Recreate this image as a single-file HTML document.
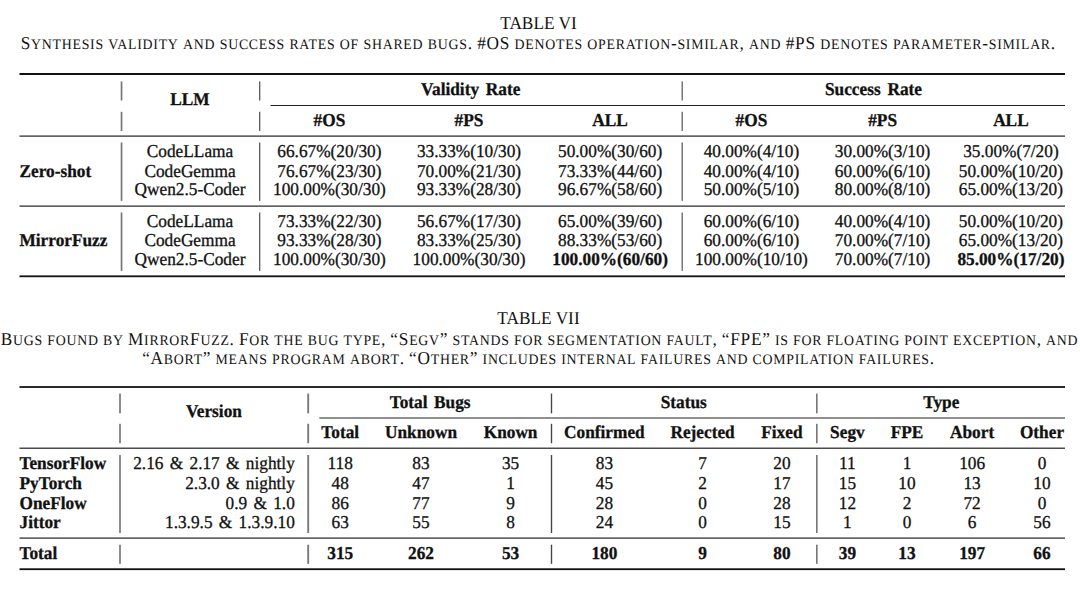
<!DOCTYPE html>
<html><head><meta charset="utf-8"><title>Tables VI and VII</title>
<style>
html,body{margin:0;padding:0;background:#fff;}
svg{display:block;}
text{font-family:"Liberation Serif","Times New Roman",serif;font-size:17.3px;fill:#111;text-rendering:geometricPrecision;}
text.s{stroke:#111;stroke-width:0.3px;}
text.b{font-weight:bold;}
tspan.sm{font-size:13.84px;text-transform:uppercase;}
tspan.sf{font-family:"Liberation Sans",Arial,sans-serif;font-size:15.6px;}
</style></head>
<body>
<svg width="1080" height="593" viewBox="0 0 1080 593">
<rect width="1080" height="593" fill="#fff"/>
<text x="538.5" y="29.2" text-anchor="middle" transform="matrix(1 0 0 1.05 0 -1.46)">TABLE VI</text>
<text x="538.3" y="49" text-anchor="middle" letter-spacing="0.75" word-spacing="-0.62" transform="matrix(1 0 0 1.05 0 -2.45)">S<tspan class="sm">ynthesis</tspan> <tspan class="sm">validity</tspan> <tspan class="sm">and</tspan> <tspan class="sm">success</tspan> <tspan class="sm">rates</tspan> <tspan class="sm">of</tspan> <tspan class="sm">shared</tspan> <tspan class="sm">bugs</tspan>. #OS <tspan class="sm">denotes</tspan> <tspan class="sm">operation</tspan>-<tspan class="sm">similar</tspan>, <tspan class="sm">and</tspan> #PS <tspan class="sm">denotes</tspan> <tspan class="sm">parameter</tspan>-<tspan class="sm">similar</tspan>.</text>
<rect x="19.5" y="73" width="1045.5" height="2" fill="#111"/>
<rect x="270.5" y="105" width="794.5" height="1.0" fill="#222"/>
<rect x="19.5" y="135.5" width="1045.5" height="1.2" fill="#222"/>
<rect x="19.5" y="205.5" width="1045.5" height="1.2" fill="#222"/>
<rect x="19.5" y="275.4" width="1045.5" height="1.8" fill="#111"/>
<rect x="120" y="81.4" width="1" height="19.1" fill="#d4d4d4"/>
<rect x="120" y="111.8" width="1" height="19.2" fill="#d4d4d4"/>
<rect x="120" y="142.5" width="1" height="58.4" fill="#d4d4d4"/>
<rect x="120" y="212.5" width="1" height="58.4" fill="#d4d4d4"/>
<rect x="121" y="81.4" width="1" height="19.1" fill="#767676"/>
<rect x="121" y="111.8" width="1" height="19.2" fill="#767676"/>
<rect x="121" y="142.5" width="1" height="58.4" fill="#767676"/>
<rect x="121" y="212.5" width="1" height="58.4" fill="#767676"/>
<rect x="122" y="81.4" width="1" height="19.1" fill="#cccccc"/>
<rect x="122" y="111.8" width="1" height="19.2" fill="#cccccc"/>
<rect x="122" y="142.5" width="1" height="58.4" fill="#cccccc"/>
<rect x="122" y="212.5" width="1" height="58.4" fill="#cccccc"/>
<rect x="259" y="81.4" width="1" height="19.1" fill="#5e5e5e"/>
<rect x="259" y="111.8" width="1" height="19.2" fill="#5e5e5e"/>
<rect x="259" y="142.5" width="1" height="58.4" fill="#5e5e5e"/>
<rect x="259" y="212.5" width="1" height="58.4" fill="#5e5e5e"/>
<rect x="260" y="81.4" width="1" height="19.1" fill="#c8c8c8"/>
<rect x="260" y="111.8" width="1" height="19.2" fill="#c8c8c8"/>
<rect x="260" y="142.5" width="1" height="58.4" fill="#c8c8c8"/>
<rect x="260" y="212.5" width="1" height="58.4" fill="#c8c8c8"/>
<rect x="681" y="81.4" width="1" height="19.1" fill="#bbbbbb"/>
<rect x="681" y="111.8" width="1" height="19.2" fill="#bbbbbb"/>
<rect x="681" y="142.5" width="1" height="58.4" fill="#bbbbbb"/>
<rect x="681" y="212.5" width="1" height="58.4" fill="#bbbbbb"/>
<rect x="682" y="81.4" width="1" height="19.1" fill="#777777"/>
<rect x="682" y="111.8" width="1" height="19.2" fill="#777777"/>
<rect x="682" y="142.5" width="1" height="58.4" fill="#777777"/>
<rect x="682" y="212.5" width="1" height="58.4" fill="#777777"/>
<text x="190" y="105" text-anchor="middle" class="b s" transform="matrix(1 0 0 1.05 0 -5.25)">LLM</text>
<text x="470.75" y="95.5" text-anchor="middle" class="b s" word-spacing="2.5" transform="matrix(1 0 0 1.05 0 -4.775)">Validity Rate</text>
<text x="873.5" y="95.5" text-anchor="middle" class="b s" word-spacing="2.5" transform="matrix(1 0 0 1.05 0 -4.775)">Success Rate</text>
<text x="329.4" y="126.0" text-anchor="middle" class="b s" transform="matrix(1 0 0 1.05 0 -6.3)">#OS</text>
<text x="469" y="126.0" text-anchor="middle" class="b s" transform="matrix(1 0 0 1.05 0 -6.3)">#PS</text>
<text x="610.1" y="126.0" text-anchor="middle" class="b s" transform="matrix(1 0 0 1.05 0 -6.3)">ALL</text>
<text x="751.4" y="126.0" text-anchor="middle" class="b s" transform="matrix(1 0 0 1.05 0 -6.3)">#OS</text>
<text x="882.6" y="126.0" text-anchor="middle" class="b s" transform="matrix(1 0 0 1.05 0 -6.3)">#PS</text>
<text x="1010.9" y="126.0" text-anchor="middle" class="b s" transform="matrix(1 0 0 1.05 0 -6.3)">ALL</text>
<text x="190" y="156.6" text-anchor="middle" class="s" transform="matrix(1 0 0 1.05 0 -7.83)">CodeLLama</text>
<text x="329.4" y="156.6" text-anchor="middle" class="s" transform="matrix(1 0 0 1.05 0 -7.83)">66.67%(20/30)</text>
<text x="469" y="156.6" text-anchor="middle" class="s" transform="matrix(1 0 0 1.05 0 -7.83)">33.33%(10/30)</text>
<text x="610.1" y="156.6" text-anchor="middle" class="s" transform="matrix(1 0 0 1.05 0 -7.83)">50.00%(30/60)</text>
<text x="751.4" y="156.6" text-anchor="middle" class="s" transform="matrix(1 0 0 1.05 0 -7.83)">40.00%(4/10)</text>
<text x="882.6" y="156.6" text-anchor="middle" class="s" transform="matrix(1 0 0 1.05 0 -7.83)">30.00%(3/10)</text>
<text x="1010.9" y="156.6" text-anchor="middle" class="s" transform="matrix(1 0 0 1.05 0 -7.83)">35.00%(7/20)</text>
<text x="190" y="176.5" text-anchor="middle" class="s" transform="matrix(1 0 0 1.05 0 -8.825)">CodeGemma</text>
<text x="329.4" y="176.5" text-anchor="middle" class="s" transform="matrix(1 0 0 1.05 0 -8.825)">76.67%(23/30)</text>
<text x="469" y="176.5" text-anchor="middle" class="s" transform="matrix(1 0 0 1.05 0 -8.825)">70.00%(21/30)</text>
<text x="610.1" y="176.5" text-anchor="middle" class="s" transform="matrix(1 0 0 1.05 0 -8.825)">73.33%(44/60)</text>
<text x="751.4" y="176.5" text-anchor="middle" class="s" transform="matrix(1 0 0 1.05 0 -8.825)">40.00%(4/10)</text>
<text x="882.6" y="176.5" text-anchor="middle" class="s" transform="matrix(1 0 0 1.05 0 -8.825)">60.00%(6/10)</text>
<text x="1010.9" y="176.5" text-anchor="middle" class="s" transform="matrix(1 0 0 1.05 0 -8.825)">50.00%(10/20)</text>
<text x="190" y="195.1" text-anchor="middle" class="s" transform="matrix(1 0 0 1.05 0 -9.755)">Qwen2.5-Coder</text>
<text x="329.4" y="195.1" text-anchor="middle" class="s" transform="matrix(1 0 0 1.05 0 -9.755)">100.00%(30/30)</text>
<text x="469" y="195.1" text-anchor="middle" class="s" transform="matrix(1 0 0 1.05 0 -9.755)">93.33%(28/30)</text>
<text x="610.1" y="195.1" text-anchor="middle" class="s" transform="matrix(1 0 0 1.05 0 -9.755)">96.67%(58/60)</text>
<text x="751.4" y="195.1" text-anchor="middle" class="s" transform="matrix(1 0 0 1.05 0 -9.755)">50.00%(5/10)</text>
<text x="882.6" y="195.1" text-anchor="middle" class="s" transform="matrix(1 0 0 1.05 0 -9.755)">80.00%(8/10)</text>
<text x="1010.9" y="195.1" text-anchor="middle" class="s" transform="matrix(1 0 0 1.05 0 -9.755)">65.00%(13/20)</text>
<text x="190" y="226.9" text-anchor="middle" class="s" transform="matrix(1 0 0 1.05 0 -11.345)">CodeLLama</text>
<text x="329.4" y="226.9" text-anchor="middle" class="s" transform="matrix(1 0 0 1.05 0 -11.345)">73.33%(22/30)</text>
<text x="469" y="226.9" text-anchor="middle" class="s" transform="matrix(1 0 0 1.05 0 -11.345)">56.67%(17/30)</text>
<text x="610.1" y="226.9" text-anchor="middle" class="s" transform="matrix(1 0 0 1.05 0 -11.345)">65.00%(39/60)</text>
<text x="751.4" y="226.9" text-anchor="middle" class="s" transform="matrix(1 0 0 1.05 0 -11.345)">60.00%(6/10)</text>
<text x="882.6" y="226.9" text-anchor="middle" class="s" transform="matrix(1 0 0 1.05 0 -11.345)">40.00%(4/10)</text>
<text x="1010.9" y="226.9" text-anchor="middle" class="s" transform="matrix(1 0 0 1.05 0 -11.345)">50.00%(10/20)</text>
<text x="190" y="246.3" text-anchor="middle" class="s" transform="matrix(1 0 0 1.05 0 -12.315)">CodeGemma</text>
<text x="329.4" y="246.3" text-anchor="middle" class="s" transform="matrix(1 0 0 1.05 0 -12.315)">93.33%(28/30)</text>
<text x="469" y="246.3" text-anchor="middle" class="s" transform="matrix(1 0 0 1.05 0 -12.315)">83.33%(25/30)</text>
<text x="610.1" y="246.3" text-anchor="middle" class="s" transform="matrix(1 0 0 1.05 0 -12.315)">88.33%(53/60)</text>
<text x="751.4" y="246.3" text-anchor="middle" class="s" transform="matrix(1 0 0 1.05 0 -12.315)">60.00%(6/10)</text>
<text x="882.6" y="246.3" text-anchor="middle" class="s" transform="matrix(1 0 0 1.05 0 -12.315)">70.00%(7/10)</text>
<text x="1010.9" y="246.3" text-anchor="middle" class="s" transform="matrix(1 0 0 1.05 0 -12.315)">65.00%(13/20)</text>
<text x="190" y="265.4" text-anchor="middle" class="s" transform="matrix(1 0 0 1.05 0 -13.27)">Qwen2.5-Coder</text>
<text x="329.4" y="265.4" text-anchor="middle" class="s" transform="matrix(1 0 0 1.05 0 -13.27)">100.00%(30/30)</text>
<text x="469" y="265.4" text-anchor="middle" class="s" transform="matrix(1 0 0 1.05 0 -13.27)">100.00%(30/30)</text>
<text x="610.1" y="265.4" text-anchor="middle" class="b s" transform="matrix(1 0 0 1.05 0 -13.27)">100.00%(60/60)</text>
<text x="751.4" y="265.4" text-anchor="middle" class="s" transform="matrix(1 0 0 1.05 0 -13.27)">100.00%(10/10)</text>
<text x="882.6" y="265.4" text-anchor="middle" class="s" transform="matrix(1 0 0 1.05 0 -13.27)">70.00%(7/10)</text>
<text x="1010.9" y="265.4" text-anchor="middle" class="b s" transform="matrix(1 0 0 1.05 0 -13.27)">85.00%(17/20)</text>
<text x="19.5" y="176.5" class="b s" transform="matrix(1 0 0 1.05 0 -8.825)">Zero-shot</text>
<text x="19.5" y="246" class="b s" transform="matrix(1 0 0 1.05 0 -12.3)">MirrorFuzz</text>
<text x="538.5" y="324.3" text-anchor="middle" transform="matrix(1 0 0 1.05 0 -16.215)">TABLE VII</text>
<text x="539.5" y="345" text-anchor="middle" letter-spacing="0.75" word-spacing="-0.8" transform="matrix(1 0 0 1.05 0 -17.25)">B<tspan class="sm">ugs</tspan> <tspan class="sm">found</tspan> <tspan class="sm">by</tspan> M<tspan class="sm">irror</tspan>F<tspan class="sm">uzz</tspan>. F<tspan class="sm">or</tspan> <tspan class="sm">the</tspan> <tspan class="sm">bug</tspan> <tspan class="sm">type</tspan>, “S<tspan class="sm">egv</tspan>” <tspan class="sm">stands</tspan> <tspan class="sm">for</tspan> <tspan class="sm">segmentation</tspan> <tspan class="sm">fault</tspan>, “FPE” <tspan class="sm">is</tspan> <tspan class="sm">for</tspan> <tspan class="sm">floating</tspan> <tspan class="sm">point</tspan> <tspan class="sm">exception</tspan>, <tspan class="sm">and</tspan></text>
<text x="538.5" y="363.5" text-anchor="middle" letter-spacing="0.75" word-spacing="-0.8" transform="matrix(1 0 0 1.05 0 -18.175)">“A<tspan class="sm">bort</tspan>” <tspan class="sm">means</tspan> <tspan class="sm">program</tspan> <tspan class="sm">abort</tspan>. “O<tspan class="sm">ther</tspan>” <tspan class="sm">includes</tspan> <tspan class="sm">internal</tspan> <tspan class="sm">failures</tspan> <tspan class="sm">and</tspan> <tspan class="sm">compilation</tspan> <tspan class="sm">failures</tspan>.</text>
<rect x="19.5" y="386" width="1045.5" height="2" fill="#2a2a2a"/>
<rect x="319.3" y="417.5" width="745.7" height="1.0" fill="#222"/>
<rect x="19.5" y="447.6" width="1045.5" height="1.2" fill="#222"/>
<rect x="19.5" y="537.5" width="1045.5" height="1.2" fill="#222"/>
<rect x="19.5" y="568.3" width="1045.5" height="1.8" fill="#111"/>
<rect x="119" y="393.6" width="1" height="19.7" fill="#8c8c8c"/>
<rect x="119" y="423.8" width="1" height="19.4" fill="#8c8c8c"/>
<rect x="119" y="455" width="1" height="78" fill="#8c8c8c"/>
<rect x="119" y="544.7" width="1" height="19.1" fill="#8c8c8c"/>
<rect x="120" y="393.6" width="1" height="19.7" fill="#8c8c8c"/>
<rect x="120" y="423.8" width="1" height="19.4" fill="#8c8c8c"/>
<rect x="120" y="455" width="1" height="78" fill="#8c8c8c"/>
<rect x="120" y="544.7" width="1" height="19.1" fill="#8c8c8c"/>
<rect x="307" y="393.6" width="1" height="19.7" fill="#9a9a9a"/>
<rect x="307" y="423.8" width="1" height="19.4" fill="#9a9a9a"/>
<rect x="307" y="455" width="1" height="78" fill="#9a9a9a"/>
<rect x="307" y="544.7" width="1" height="19.1" fill="#9a9a9a"/>
<rect x="308" y="393.6" width="1" height="19.7" fill="#777777"/>
<rect x="308" y="423.8" width="1" height="19.4" fill="#777777"/>
<rect x="308" y="455" width="1" height="78" fill="#777777"/>
<rect x="308" y="544.7" width="1" height="19.1" fill="#777777"/>
<rect x="309" y="393.6" width="1" height="19.7" fill="#eeeeee"/>
<rect x="309" y="423.8" width="1" height="19.4" fill="#eeeeee"/>
<rect x="309" y="455" width="1" height="78" fill="#eeeeee"/>
<rect x="309" y="544.7" width="1" height="19.1" fill="#eeeeee"/>
<rect x="550" y="393.6" width="1" height="19.7" fill="#dddddd"/>
<rect x="550" y="423.8" width="1" height="19.4" fill="#dddddd"/>
<rect x="550" y="455" width="1" height="78" fill="#dddddd"/>
<rect x="550" y="544.7" width="1" height="19.1" fill="#dddddd"/>
<rect x="551" y="393.6" width="1" height="19.7" fill="#454545"/>
<rect x="551" y="423.8" width="1" height="19.4" fill="#454545"/>
<rect x="551" y="455" width="1" height="78" fill="#454545"/>
<rect x="551" y="544.7" width="1" height="19.1" fill="#454545"/>
<rect x="552" y="393.6" width="1" height="19.7" fill="#dddddd"/>
<rect x="552" y="423.8" width="1" height="19.4" fill="#dddddd"/>
<rect x="552" y="455" width="1" height="78" fill="#dddddd"/>
<rect x="552" y="544.7" width="1" height="19.1" fill="#dddddd"/>
<rect x="816" y="393.6" width="1" height="19.7" fill="#777777"/>
<rect x="816" y="423.8" width="1" height="19.4" fill="#777777"/>
<rect x="816" y="455" width="1" height="78" fill="#777777"/>
<rect x="816" y="544.7" width="1" height="19.1" fill="#777777"/>
<rect x="817" y="393.6" width="1" height="19.7" fill="#aaaaaa"/>
<rect x="817" y="423.8" width="1" height="19.4" fill="#aaaaaa"/>
<rect x="817" y="455" width="1" height="78" fill="#aaaaaa"/>
<rect x="817" y="544.7" width="1" height="19.1" fill="#aaaaaa"/>
<text x="213.9" y="417.5" text-anchor="middle" class="b s" transform="matrix(1 0 0 1.05 0 -20.875)">Version</text>
<text x="430.15" y="408.1" text-anchor="middle" class="b s" word-spacing="2.2" transform="matrix(1 0 0 1.05 0 -20.405)">Total Bugs</text>
<text x="683.8" y="408.1" text-anchor="middle" class="b s" transform="matrix(1 0 0 1.05 0 -20.405)">Status</text>
<text x="941.3" y="408.1" text-anchor="middle" class="b s" transform="matrix(1 0 0 1.05 0 -20.405)">Type</text>
<text x="340.2" y="438.3" text-anchor="middle" class="b s" transform="matrix(1 0 0 1.05 0 -21.915)">Total</text>
<text x="421" y="438.3" text-anchor="middle" class="b s" transform="matrix(1 0 0 1.05 0 -21.915)">Unknown</text>
<text x="510.6" y="438.3" text-anchor="middle" class="b s" transform="matrix(1 0 0 1.05 0 -21.915)">Known</text>
<text x="604.4" y="438.3" text-anchor="middle" class="b s" transform="matrix(1 0 0 1.05 0 -21.915)">Confirmed</text>
<text x="702.6" y="438.3" text-anchor="middle" class="b s" transform="matrix(1 0 0 1.05 0 -21.915)">Rejected</text>
<text x="781.9" y="438.3" text-anchor="middle" class="b s" transform="matrix(1 0 0 1.05 0 -21.915)">Fixed</text>
<text x="847.4" y="438.3" text-anchor="middle" class="b s" transform="matrix(1 0 0 1.05 0 -21.915)">Segv</text>
<text x="907" y="438.3" text-anchor="middle" class="b s" transform="matrix(1 0 0 1.05 0 -21.915)">FPE</text>
<text x="972.1" y="438.3" text-anchor="middle" class="b s" transform="matrix(1 0 0 1.05 0 -21.915)">Abort</text>
<text x="1042" y="438.3" text-anchor="middle" class="b s" transform="matrix(1 0 0 1.05 0 -21.915)">Other</text>
<text x="19.5" y="469.3" class="b s" transform="matrix(1 0 0 1.05 0 -23.465)">TensorFlow</text>
<text x="294.8" y="469.3" text-anchor="end" class="s" word-spacing="2" transform="matrix(1 0 0 1.05 0 -23.465)">2.16 &amp; 2.17 &amp; nightly</text>
<text x="340.2" y="469.3" text-anchor="middle" class="s" transform="matrix(1 0 0 1.05 0 -23.465)">118</text>
<text x="421" y="469.3" text-anchor="middle" class="s" transform="matrix(1 0 0 1.05 0 -23.465)">83</text>
<text x="510.6" y="469.3" text-anchor="middle" class="s" transform="matrix(1 0 0 1.05 0 -23.465)">35</text>
<text x="604.4" y="469.3" text-anchor="middle" class="s" transform="matrix(1 0 0 1.05 0 -23.465)">83</text>
<text x="702.6" y="469.3" text-anchor="middle" class="s" transform="matrix(1 0 0 1.05 0 -23.465)">7</text>
<text x="781.9" y="469.3" text-anchor="middle" class="s" transform="matrix(1 0 0 1.05 0 -23.465)">20</text>
<text x="847.4" y="469.3" text-anchor="middle" class="s" transform="matrix(1 0 0 1.05 0 -23.465)">11</text>
<text x="907" y="469.3" text-anchor="middle" class="s" transform="matrix(1 0 0 1.05 0 -23.465)">1</text>
<text x="972.1" y="469.3" text-anchor="middle" class="s" transform="matrix(1 0 0 1.05 0 -23.465)">106</text>
<text x="1042" y="469.3" text-anchor="middle" class="s" transform="matrix(1 0 0 1.05 0 -23.465)">0</text>
<text x="19.5" y="489.0" class="b s" transform="matrix(1 0 0 1.05 0 -24.45)">PyTorch</text>
<text x="294.8" y="489.0" text-anchor="end" class="s" word-spacing="2" transform="matrix(1 0 0 1.05 0 -24.45)">2.3.0 &amp; nightly</text>
<text x="340.2" y="489.0" text-anchor="middle" class="s" transform="matrix(1 0 0 1.05 0 -24.45)">48</text>
<text x="421" y="489.0" text-anchor="middle" class="s" transform="matrix(1 0 0 1.05 0 -24.45)">47</text>
<text x="510.6" y="489.0" text-anchor="middle" class="s" transform="matrix(1 0 0 1.05 0 -24.45)">1</text>
<text x="604.4" y="489.0" text-anchor="middle" class="s" transform="matrix(1 0 0 1.05 0 -24.45)">45</text>
<text x="702.6" y="489.0" text-anchor="middle" class="s" transform="matrix(1 0 0 1.05 0 -24.45)">2</text>
<text x="781.9" y="489.0" text-anchor="middle" class="s" transform="matrix(1 0 0 1.05 0 -24.45)">17</text>
<text x="847.4" y="489.0" text-anchor="middle" class="s" transform="matrix(1 0 0 1.05 0 -24.45)">15</text>
<text x="907" y="489.0" text-anchor="middle" class="s" transform="matrix(1 0 0 1.05 0 -24.45)">10</text>
<text x="972.1" y="489.0" text-anchor="middle" class="s" transform="matrix(1 0 0 1.05 0 -24.45)">13</text>
<text x="1042" y="489.0" text-anchor="middle" class="s" transform="matrix(1 0 0 1.05 0 -24.45)">10</text>
<text x="19.5" y="509.0" class="b s" transform="matrix(1 0 0 1.05 0 -25.45)">OneFlow</text>
<text x="294.8" y="509.0" text-anchor="end" class="s" word-spacing="2" transform="matrix(1 0 0 1.05 0 -25.45)">0.9 &amp; 1.0</text>
<text x="340.2" y="509.0" text-anchor="middle" class="s" transform="matrix(1 0 0 1.05 0 -25.45)">86</text>
<text x="421" y="509.0" text-anchor="middle" class="s" transform="matrix(1 0 0 1.05 0 -25.45)">77</text>
<text x="510.6" y="509.0" text-anchor="middle" class="s" transform="matrix(1 0 0 1.05 0 -25.45)">9</text>
<text x="604.4" y="509.0" text-anchor="middle" class="s" transform="matrix(1 0 0 1.05 0 -25.45)">28</text>
<text x="702.6" y="509.0" text-anchor="middle" class="s" transform="matrix(1 0 0 1.05 0 -25.45)">0</text>
<text x="781.9" y="509.0" text-anchor="middle" class="s" transform="matrix(1 0 0 1.05 0 -25.45)">28</text>
<text x="847.4" y="509.0" text-anchor="middle" class="s" transform="matrix(1 0 0 1.05 0 -25.45)">12</text>
<text x="907" y="509.0" text-anchor="middle" class="s" transform="matrix(1 0 0 1.05 0 -25.45)">2</text>
<text x="972.1" y="509.0" text-anchor="middle" class="s" transform="matrix(1 0 0 1.05 0 -25.45)">72</text>
<text x="1042" y="509.0" text-anchor="middle" class="s" transform="matrix(1 0 0 1.05 0 -25.45)">0</text>
<text x="19.5" y="527.7" class="b s" transform="matrix(1 0 0 1.05 0 -26.385)">Jittor</text>
<text x="294.8" y="527.7" text-anchor="end" class="s" word-spacing="2" transform="matrix(1 0 0 1.05 0 -26.385)">1.3.9.5 &amp; 1.3.9.10</text>
<text x="340.2" y="527.7" text-anchor="middle" class="s" transform="matrix(1 0 0 1.05 0 -26.385)">63</text>
<text x="421" y="527.7" text-anchor="middle" class="s" transform="matrix(1 0 0 1.05 0 -26.385)">55</text>
<text x="510.6" y="527.7" text-anchor="middle" class="s" transform="matrix(1 0 0 1.05 0 -26.385)">8</text>
<text x="604.4" y="527.7" text-anchor="middle" class="s" transform="matrix(1 0 0 1.05 0 -26.385)">24</text>
<text x="702.6" y="527.7" text-anchor="middle" class="s" transform="matrix(1 0 0 1.05 0 -26.385)">0</text>
<text x="781.9" y="527.7" text-anchor="middle" class="s" transform="matrix(1 0 0 1.05 0 -26.385)">15</text>
<text x="847.4" y="527.7" text-anchor="middle" class="s" transform="matrix(1 0 0 1.05 0 -26.385)">1</text>
<text x="907" y="527.7" text-anchor="middle" class="s" transform="matrix(1 0 0 1.05 0 -26.385)">0</text>
<text x="972.1" y="527.7" text-anchor="middle" class="s" transform="matrix(1 0 0 1.05 0 -26.385)">6</text>
<text x="1042" y="527.7" text-anchor="middle" class="s" transform="matrix(1 0 0 1.05 0 -26.385)">56</text>
<text x="19.5" y="558.6" class="b s" transform="matrix(1 0 0 1.05 0 -27.93)">Total</text>
<text x="340.2" y="558.6" text-anchor="middle" class="b s" transform="matrix(1 0 0 1.05 0 -27.93)">315</text>
<text x="421" y="558.6" text-anchor="middle" class="b s" transform="matrix(1 0 0 1.05 0 -27.93)">262</text>
<text x="510.6" y="558.6" text-anchor="middle" class="b s" transform="matrix(1 0 0 1.05 0 -27.93)">53</text>
<text x="604.4" y="558.6" text-anchor="middle" class="b s" transform="matrix(1 0 0 1.05 0 -27.93)">180</text>
<text x="702.6" y="558.6" text-anchor="middle" class="b s" transform="matrix(1 0 0 1.05 0 -27.93)">9</text>
<text x="781.9" y="558.6" text-anchor="middle" class="b s" transform="matrix(1 0 0 1.05 0 -27.93)">80</text>
<text x="847.4" y="558.6" text-anchor="middle" class="b s" transform="matrix(1 0 0 1.05 0 -27.93)">39</text>
<text x="907" y="558.6" text-anchor="middle" class="b s" transform="matrix(1 0 0 1.05 0 -27.93)">13</text>
<text x="972.1" y="558.6" text-anchor="middle" class="b s" transform="matrix(1 0 0 1.05 0 -27.93)">197</text>
<text x="1042" y="558.6" text-anchor="middle" class="b s" transform="matrix(1 0 0 1.05 0 -27.93)">66</text>
</svg>
</body></html>
